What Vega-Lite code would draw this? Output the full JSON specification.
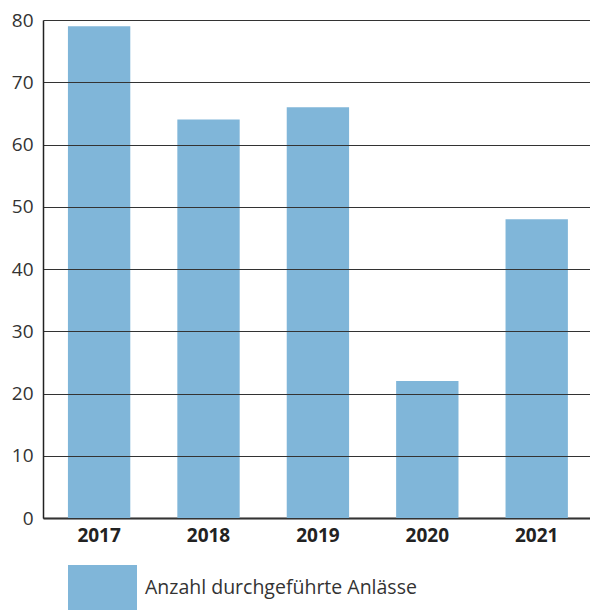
{
  "$schema": "https://vega.github.io/schema/vega-lite/v6.json",
  "width": 547,
  "height": 498,
  "autosize": {"type": "none"},
  "padding": {"left": 43, "top": 20, "right": 0, "bottom": 92},
  "background": "white",
  "config": {"view": {"stroke": null}, "font": "Open Sans"},
  "data": {"values": [
    {"Jahr": "2017", "Anzahl": 79},
    {"Jahr": "2018", "Anzahl": 64},
    {"Jahr": "2019", "Anzahl": 66},
    {"Jahr": "2020", "Anzahl": 22},
    {"Jahr": "2021", "Anzahl": 48}
  ]},
  "mark": {"type": "bar"},
  "encoding": {
    "x": {
      "field": "Jahr", "type": "nominal", "sort": null,
      "scale": {"paddingInner": 0.43, "paddingOuter": 0.215, "align": 0.53},
      "axis": {"title": null, "labelAngle": 0, "ticks": false, "domainColor": "#222", "domainWidth": 2,
               "labelFont": "Open Sans", "labelFontSize": 19, "labelFontWeight": "bold", "labelColor": "#222", "labelPadding": 8, "grid": false}
    },
    "y": {
      "field": "Anzahl", "type": "quantitative",
      "scale": {"domain": [0, 80], "nice": false},
      "axis": {"title": null, "values": [0,10,20,30,40,50,60,70,80], "ticks": false, "domainColor": "#222", "domainWidth": 1.5,
               "grid": true, "gridColor": "#333", "gridWidth": 1.2, "gridOpacity": 1, "zindex": 1,
               "labelFont": "Open Sans", "labelFontSize": 19, "labelColor": "#333", "labelPadding": 10}
    },
    "color": {
      "datum": "Anzahl durchgeführte Anlässe",
      "scale": {"range": ["#80b6d9"]},
      "legend": {"title": null, "orient": "none", "legendX": 25, "legendY": 533, "padding": 0,
                 "symbolType": "M-1,-0.652H1V0.652H-1Z", "symbolSize": 4761, "symbolStrokeWidth": 0, "symbolOpacity": 1,
                 "labelFont": "Open Sans", "labelFontSize": 19.5, "labelColor": "#333", "labelOffset": 8, "labelLimit": 400}
    }
  }
}
